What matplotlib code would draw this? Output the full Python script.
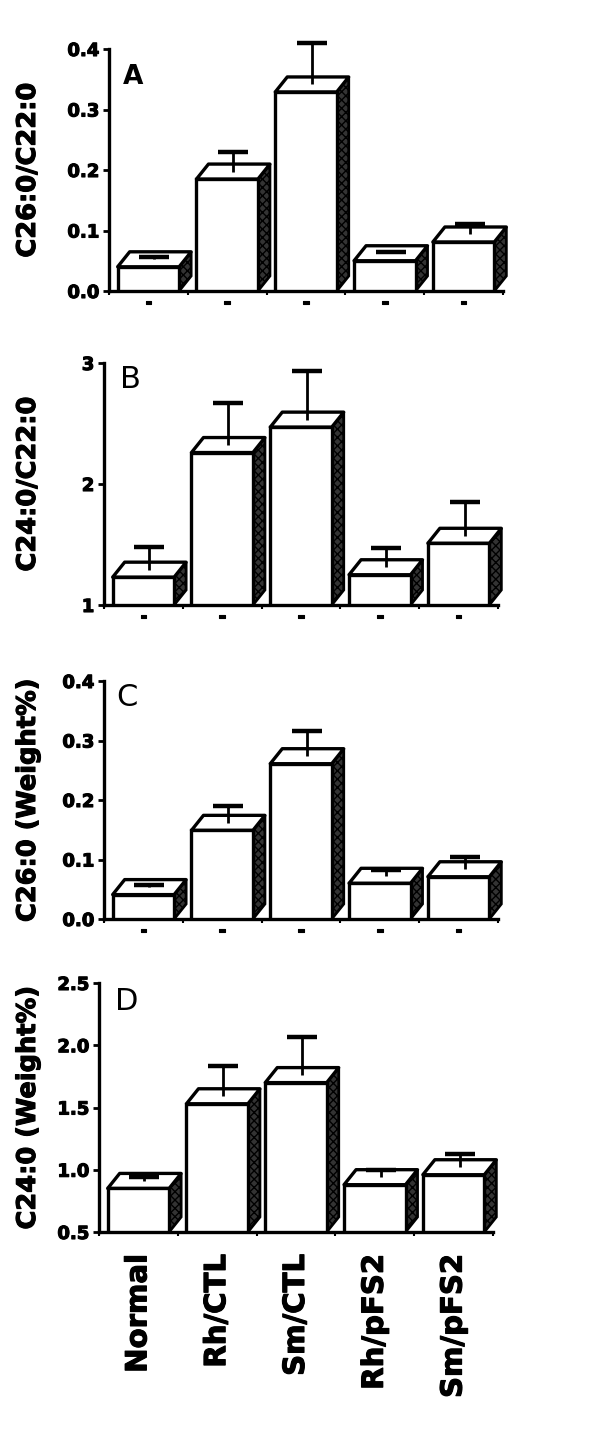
import matplotlib
matplotlib.use("Agg")
import matplotlib.pyplot as plt
from matplotlib.patches import Polygon
import matplotlib.patheffects as pe
import numpy as np

plt.rcParams['font.family'] = ['DejaVu Sans']
plt.rcParams['font.weight'] = 'bold'

categories = ["Normal", "Rh/CTL", "Sm/CTL", "Rh/pFS2", "Sm/pFS2"]

# Panel A: C26:0/C22:0
a_mean = [0.040, 0.185, 0.329, 0.050, 0.081]
a_cap = [0.056, 0.230, 0.410, 0.064, 0.110]
# Panel B: C24:0/C22:0
b_mean = [1.23, 2.26, 2.47, 1.25, 1.51]
b_cap = [1.48, 2.67, 2.93, 1.47, 1.85]
# Panel C: C26:0 (Weight%)
c_mean = [0.041, 0.149, 0.261, 0.060, 0.071]
c_cap = [0.057, 0.190, 0.316, 0.083, 0.104]
# Panel D: C24:0 (Weight%)
d_mean = [0.85, 1.53, 1.70, 0.88, 0.96]
d_cap = [0.94, 1.83, 2.07, 1.00, 1.13]

W, H = 600, 1436
fig = plt.figure(figsize=(W / 100, H / 100), dpi=100)

heavy = [pe.withStroke(linewidth=0.8, foreground='black')]

panels = [
    dict(rect=(109, 49, 394, 242), mean=a_mean, cap=a_cap, ylim=(0, 0.4),
         yticks=[0.0, 0.1, 0.2, 0.3, 0.4], fmt="{:.1f}", ylabel="C26:0/C22:0",
         letter="A", lpos=(0.035, 0.94), lsize=19, lweight='bold'),
    dict(rect=(104, 363, 394, 242), mean=b_mean, cap=b_cap, ylim=(1, 3),
         yticks=[1, 2, 3], fmt="{:d}", ylabel="C24:0/C22:0",
         letter="B", lpos=(0.04, 0.99), lsize=22, lweight='normal'),
    dict(rect=(104, 681, 394, 238), mean=c_mean, cap=c_cap, ylim=(0, 0.4),
         yticks=[0.0, 0.1, 0.2, 0.3, 0.4], fmt="{:.1f}", ylabel="C26:0 (Weight%)",
         letter="C", lpos=(0.03, 0.99), lsize=22, lweight='normal'),
    dict(rect=(99, 983, 394, 249), mean=d_mean, cap=d_cap, ylim=(0.5, 2.5),
         yticks=[0.5, 1.0, 1.5, 2.0, 2.5], fmt="{:.1f}", ylabel="C24:0 (Weight%)",
         letter="D", lpos=(0.04, 0.985), lsize=22, lweight='normal'),
]

bw = 0.78
dx_px, dy_px = 12, 15
x = np.arange(len(categories))

for k, p in enumerate(panels):
    l, t, w, h = p["rect"]
    ax = fig.add_axes([l / W, (H - t - h) / H, w / W, h / H])
    y0, y1 = p["ylim"]
    ax.set_xlim(-0.5, 4.5)
    ax.set_ylim(y0, y1)
    dx = dx_px * 5.0 / w
    dy = dy_px * (y1 - y0) / h
    mean = np.array(p["mean"])
    cap = np.array(p["cap"])
    # front faces
    ax.bar(x, mean - y0, bottom=y0, width=bw, facecolor='white',
           edgecolor='black', linewidth=2.4, zorder=3)
    for xi, v in zip(x, mean):
        xl, xr = xi - bw / 2, xi + bw / 2
        top = Polygon([(xl, v), (xl + dx, v + dy), (xr + dx, v + dy), (xr, v)],
                      closed=True, facecolor='white', edgecolor='black',
                      linewidth=2.4, zorder=2, clip_on=False, joinstyle='round')
        side = Polygon([(xr, y0), (xr, v), (xr + dx, v + dy), (xr + dx, y0 + dy)],
                       closed=True, facecolor='0.2', edgecolor='black',
                       hatch='xxxx', linewidth=2.0, zorder=2, clip_on=False)
        ax.add_patch(side)
        ax.add_patch(top)
    # error bars (upper only) from middle of top face
    ex = x + dx / 2
    ey = mean + dy / 2
    ax.vlines(ex, ey, cap, colors='black', linewidth=2.0, zorder=4, clip_on=False)
    ax.plot(ex, cap, linestyle='none', marker='_', markersize=22,
            markeredgewidth=3.2, color='black', zorder=4, clip_on=False)

    for s in ['top', 'right']:
        ax.spines[s].set_visible(False)
    ax.spines['left'].set_linewidth(2.4)
    ax.spines['bottom'].set_linewidth(2.4)
    ax.set_yticks(p["yticks"])
    ax.set_yticklabels([p["fmt"].format(v) for v in p["yticks"]],
                       fontsize=13, fontweight='bold')
    ax.tick_params(axis='y', direction='out', length=4, width=2, pad=3)
    ax.set_xticks(x)
    ax.set_xticks(np.arange(-0.5, 5, 1.0), minor=True)
    ax.tick_params(axis='x', which='minor', direction='out', length=3, width=1.5)
    if k < 3:
        ax.tick_params(axis='x', which='major', length=0, pad=2)
        ax.set_xticklabels(['-'] * len(x), fontsize=13, fontweight='bold')
    else:
        ax.tick_params(axis='x', which='major', length=0, pad=16)
        ax.set_xticklabels(categories, rotation=90, fontsize=21,
                           fontweight='bold', va='top', ha='center')
    for lab in ax.get_yticklabels() + ax.get_xticklabels():
        lab.set_path_effects(heavy)
    ylab = ax.set_ylabel(p["ylabel"], fontsize=18.5, fontweight='bold')
    ylab.set_path_effects(heavy)
    ax.yaxis.set_label_coords((41 - l) / w, 0.5)
    ax.text(p["lpos"][0], p["lpos"][1], p["letter"], transform=ax.transAxes,
            fontsize=p["lsize"], fontweight=p["lweight"], va='top', ha='left')

fig.savefig("out.png", dpi=100, facecolor='white')
